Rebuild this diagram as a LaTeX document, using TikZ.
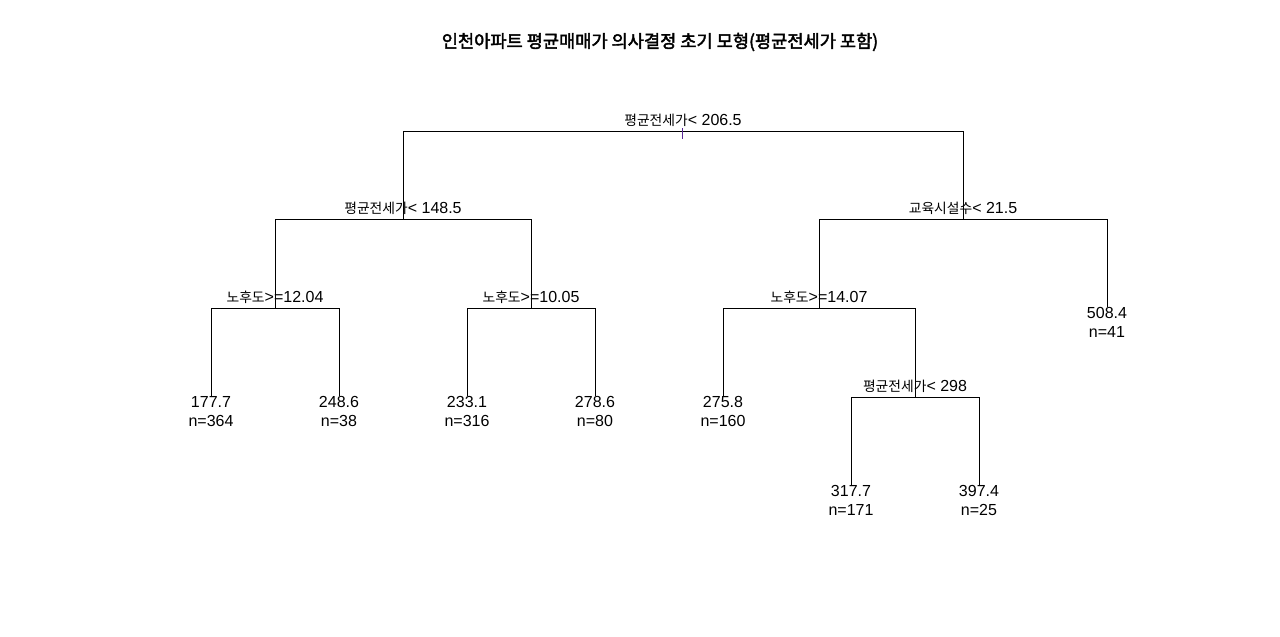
\documentclass[tikz,border=0pt]{standalone}
\usepackage{fontspec}
\setmainfont{Liberation Sans}
\newfontfamily\cjk{Noto Sans CJK KR}[AutoFakeBold=2.5]
\usetikzlibrary{positioning}
\newcommand{\kr}[1]{{\cjk\fontsize{13.8pt}{15pt}\selectfont #1}}
\definecolor{tickcol}{RGB}{90,40,150}

\begin{document}
\begin{tikzpicture}[x=1pt,y=-1pt,line width=1pt,
  splitlabel/.style={anchor=base, inner sep=0pt, font=\fontsize{16pt}{19pt}\selectfont},
  leafnode/.style={anchor=north, inner sep=0pt, align=center, font=\fontsize{16pt}{19pt}\selectfont}]
\useasboundingbox (0,0) rectangle (1280,637);
%Title
\node (title) at (660,42) {\cjk\bfseries\fontsize{17.6pt}{20pt}\selectfont 인천아파트 평균매매가 의사결정 초기 모형(평균전세가 포함)};
%Splits
\coordinate (root) at (683,131);
\coordinate (s1)   at (403,219);
\coordinate (s2)   at (963,219);
\coordinate (s11)  at (275,308);
\coordinate (s12)  at (531,308);
\coordinate (s21)  at (819,308);
\coordinate (s212) at (915,397);
\node[splitlabel] (lroot) at (683,125.5) {\kr{평균전세가}< 206.5};
\node[splitlabel] (ls1)   at (403,213.5) {\kr{평균전세가}< 148.5};
\node[splitlabel] (ls2)   at (963,213.5) {\kr{교육시설수}< 21.5};
\node[splitlabel] (ls11)  at (275,302.5) {\kr{노후도}>=12.04};
\node[splitlabel] (ls12)  at (531,302.5) {\kr{노후도}>=10.05};
\node[splitlabel] (ls21)  at (819,302.5) {\kr{노후도}>=14.07};
\node[splitlabel] (ls212) at (915,391.5) {\kr{평균전세가}< 298};
%Leaves
\node[leafnode] (l111) at (211,396) {177.7\\n=364};
\node[leafnode] (l112) at (339,396) {248.6\\n=38};
\node[leafnode] (l121) at (467,396) {233.1\\n=316};
\node[leafnode] (l122) at (595,396) {278.6\\n=80};
\node[leafnode] (l211) at (723,396) {275.8\\n=160};
\node[leafnode] (l2121) at (851,485) {317.7\\n=171};
\node[leafnode] (l2122) at (979,485) {397.4\\n=25};
\node[leafnode] (l22) at (1107,307) {508.4\\n=41};

\draw (root) -| (s1);
\draw (root) -| (s2);
\draw (s1) -| (s11);
\draw (s1) -| (s12);
\draw (s2) -| (s21);
\draw (s2) -| (l22);
\draw (s11) -| (l111);
\draw (s11) -| (l112);
\draw (s12) -| (l121);
\draw (s12) -| (l122);
\draw (s21) -| (l211);
\draw (s21) -| (s212);
\draw (s212) -| (l2121);
\draw (s212) -| (l2122);

\draw[tickcol] ([xshift=-1pt,yshift=3pt]root) -- ++(0,11);
\end{tikzpicture}
\end{document}
